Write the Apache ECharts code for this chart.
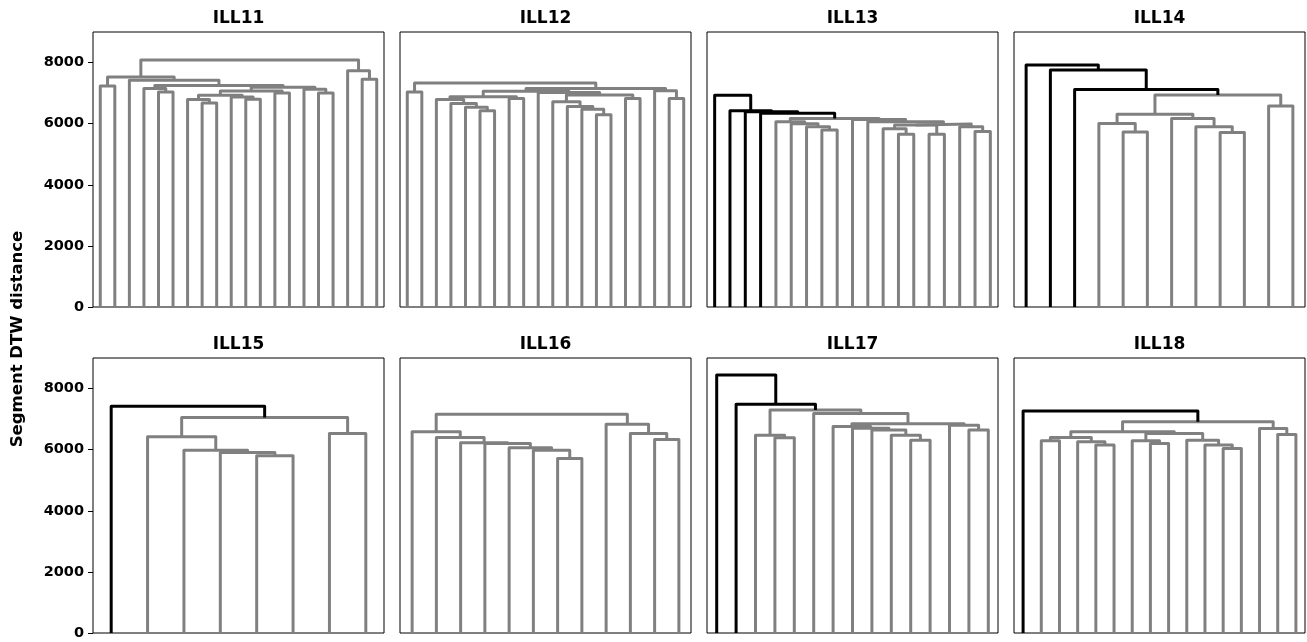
<!DOCTYPE html>
<html><head><meta charset="utf-8">
<script src="https://cdn.jsdelivr.net/npm/echarts@6/dist/echarts.min.js"></script>
<style>html,body{margin:0;padding:0;background:#fff}#c{width:1307px;height:642px}</style>
</head><body><div id="c"></div>
<script>
// ---- data ----
const panelTitles = ['ILL11','ILL12','ILL13','ILL14','ILL15','ILL16','ILL17','ILL18'];
const yTickValues = [0, 2000, 4000, 6000, 8000];
const yTickLabels = ['0', '2000', '4000', '6000', '8000'];
const yMax = 9000;
const yAxisTitle = 'Segment DTW distance';
// dendrogram trees: internal node = [mergeHeight, left, right]; 0 = leaf
const ill11Tree = [8080,
  [7530, [7230, 0, 0],
    [7420, 0,
      [7250,
        [7150, 0, [7040, 0, 0]],
        [7190,
          [7070,
            [6930, [6790, 0, [6680, 0, 0]], [6870, 0, [6800, 0, 0]]],
            [7000, 0, 0]],
          [7130, 0, [7000, 0, 0]]]]]],
  [7730, 0, [7450, 0, 0]]];
const ill12Tree = [7330, [7040, 0, 0],
  [7150,
    [7060,
      [6880, [6790, 0, [6660, 0, [6540, 0, [6420, 0, 0]]]], [6825, 0, 0]],
      [7020, 0, [6935, [6720, 0, [6560, 0, [6470, 0, [6290, 0, 0]]]], [6825, 0, 0]]]],
    [7075, 0, [6825, 0, 0]]]];
const ill13Tree = [6930, 0, [6420, 0, [6390, 0, [6340, 0,
  [6170,
    [6060, 0, [6000, 0, [5900, 0, [5790, 0, 0]]]],
    [6140, 0,
      [6060, 0,
        [5990,
          [5960, [5830, 0, [5650, 0, 0]], [5650, 0, 0]],
          [5900, 0, [5740, 0, 0]]]]]]]]]];
const ill14Tree = [7917, 0, [7753, 0, [7120, 0,
  [6935,
    [6310, [6005, 0, [5730, 0, 0]], [6170, 0, [5900, 0, [5710, 0, 0]]]],
    [6575, 0, 0]]]]];
const ill15Tree = [7425, 0, [7055, [6420, 0, [5985, 0, [5910, 0, [5800, 0, 0]]]], [6530, 0, 0]]];
const ill16Tree = [7163,
  [6585, 0, [6400, 0, [6225, 0, [6200, 0, [6060, 0, [5985, 0, [5710, 0, 0]]]]]]],
  [6835, 0, [6530, 0, [6335, 0, 0]]]];
const ill17Tree = [8440, 0, [7490, 0,
  [7295,
    [6475, 0, [6390, 0, 0]],
    [7185, 0,
      [6850,
        [6760, 0, [6700, 0, [6640, 0, [6475, 0, [6310, 0, 0]]]]],
        [6800, 0, [6640, 0, 0]]]]]]];
const ill18Tree = [7262, 0,
  [6912,
    [6585,
      [6400, [6290, 0, 0], [6260, 0, [6150, 0, 0]]],
      [6530, [6290, 0, [6200, 0, 0]], [6310, 0, [6150, 0, [6040, 0, 0]]]]],
    [6695, 0, [6500, 0, 0]]]];
const panelTrees = [ill11Tree, ill12Tree, ill13Tree, ill14Tree, ill15Tree, ill16Tree, ill17Tree, ill18Tree];
// merges above this height are drawn in the "above threshold" colour (null = none)
const colorThresholds = [null, null, 6250, 7000, 7200, null, 7400, 7100];

// ---- layout / style ----
const panelLeft = [93, 400, 707, 1014];
const panelTop = [32, 358];
const panelW = 291, panelH = 275;
const GREY = '#808080', BLACK = '#000000';
const FONT = '"DejaVu Sans", sans-serif';

function countLeaves(n) { return n === 0 ? 1 : countLeaves(n[1]) + countLeaves(n[2]); }

function buildLinks(tree, thr) {
  const links = [];
  let idx = 0;
  (function walk(n) {
    if (n === 0) { const x = 10 * idx + 5; idx++; return { x: x, h: 0 }; }
    const l = walk(n[1]);
    const r = walk(n[2]);
    const h = n[0];
    links.push({ pts: [[l.x, l.h], [l.x, h], [r.x, h], [r.x, r.h]], black: thr != null && h > thr });
    return { x: (l.x + r.x) / 2, h: h };
  })(tree);
  return links;
}

function tickLabel(v) {
  const i = yTickValues.indexOf(v);
  return i >= 0 ? yTickLabels[i] : '';
}

const grids = [], xAxes = [], yAxes = [], series = [], graphics = [];
panelTrees.forEach((tree, k) => {
  const row = k >> 2, col = k & 3;
  const showY = col === 0;
  const n = countLeaves(tree);
  grids.push({ left: panelLeft[col], top: panelTop[row], width: panelW, height: panelH,
    show: true, borderColor: '#000', borderWidth: 1, backgroundColor: 'transparent' });
  xAxes.push({ type: 'value', gridIndex: k, min: 0, max: 10 * n, show: false });
  yAxes.push({ type: 'value', gridIndex: k, min: 0, max: yMax, interval: 2000,
    axisLine: { show: false },
    splitLine: { show: false },
    axisTick: { show: showY, length: 5, customValues: yTickValues, lineStyle: { color: '#000', width: 1 } },
    axisLabel: { show: showY, margin: 9, customValues: yTickValues, formatter: tickLabel,
      fontFamily: FONT, fontWeight: 'bold', fontSize: 14.5, color: '#000' } });
  const links = buildLinks(tree, colorThresholds[k]);
  links.sort((a, b) => (a.black ? 1 : 0) - (b.black ? 1 : 0));
  links.forEach(lk => {
    series.push({ type: 'line', xAxisIndex: k, yAxisIndex: k, data: lk.pts,
      symbol: 'none', showSymbol: false, silent: true, animation: false, clip: false,
      lineStyle: { color: lk.black ? BLACK : GREY, width: 3, join: 'round', cap: 'butt' } });
  });
  graphics.push({ type: 'text', x: panelLeft[col] + panelW / 2, y: panelTop[row] - 13,
    style: { text: panelTitles[k], align: 'center', verticalAlign: 'middle', textAlign: 'center', textVerticalAlign: 'middle',
      fontFamily: FONT, fontWeight: 'bold', fontSize: 17, fill: '#000' } });
});
graphics.push({ type: 'text', x: 18, y: 339, rotation: Math.PI / 2,
  style: { text: yAxisTitle, align: 'center', verticalAlign: 'middle', textAlign: 'center', textVerticalAlign: 'middle',
    fontFamily: FONT, fontWeight: 'bold', fontSize: 16.5, fill: '#000' } });

const chart = echarts.init(document.getElementById('c'), null, { renderer: 'canvas' });
chart.setOption({ animation: false, backgroundColor: '#fff',
  grid: grids, xAxis: xAxes, yAxis: yAxes, series: series, graphic: graphics });
</script></body></html>
